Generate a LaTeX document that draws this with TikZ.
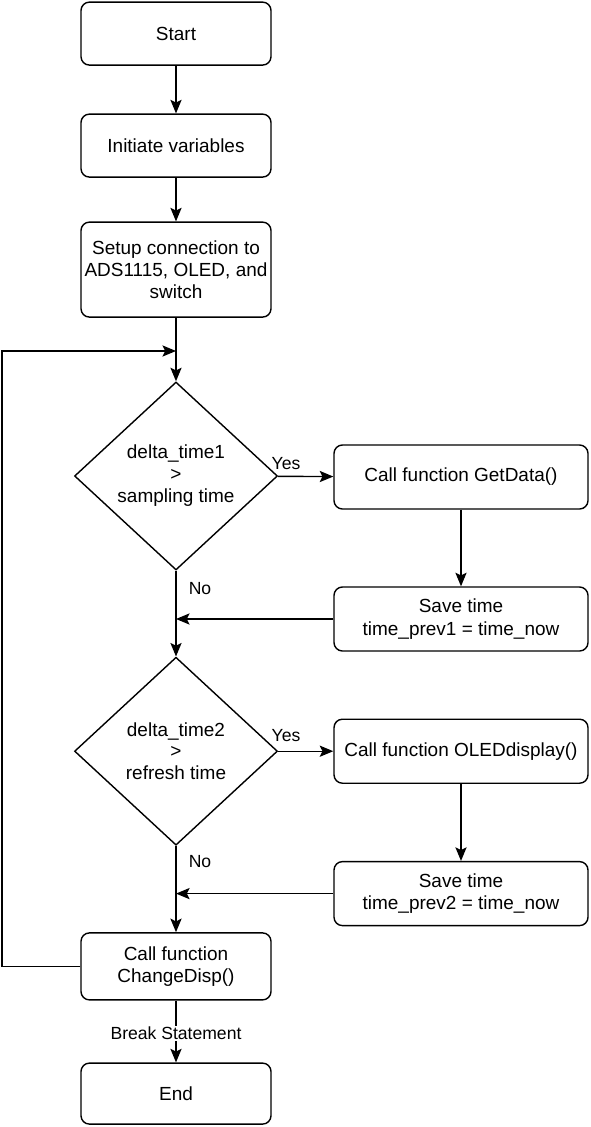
\documentclass[tikz,border=0pt]{standalone}
\usepackage{fontspec}
\setmainfont{Liberation Sans}
\usetikzlibrary{positioning, arrows.meta, shapes.geometric}

\begin{document}
\begin{tikzpicture}[
  box/.style={rectangle, rounded corners=6pt, draw=black, line width=1pt, align=center,
              minimum width=4.75cm, minimum height=1.575cm, inner sep=2pt,
              font=\fontsize{13.5}{15.8}\selectfont},
  wide/.style={box, minimum width=6.35cm, minimum height=1.6cm},
  decision/.style={diamond, draw=black, line width=1pt, align=center, inner sep=0pt,
                   minimum width=5.075cm, minimum height=4.7cm,
                   font=\fontsize{13.5}{15.6}\selectfont},
  lbl/.style={font=\fontsize{12.5}{14}\selectfont, inner sep=1pt},
  flow/.style={-{Stealth[length=3.4mm, width=2.8mm, inset=0.7mm]}, line width=1pt},
]
\useasboundingbox (0,0) rectangle (14.75,-28.175);
% main column
\node[box] (start) at (4.4,-0.84) {Start};
\node[box] (init) at (4.4,-3.64) {Initiate variables};
\node[box, minimum height=2.375cm] (setup) at (4.4,-6.74)
  {Setup connection to\\ADS1115, OLED, and\\switch};
\node[decision] (dt1) at (4.4,-11.9) {delta\_time1\\>\\sampling time};
\node[decision] (dt2) at (4.4,-18.78) {delta\_time2\\>\\refresh time};
\node[box, minimum height=1.675cm] (chg) at (4.4,-24.16) {Call function\\ChangeDisp()};
\node[box, minimum height=1.525cm] (end) at (4.4,-27.34) {End};
% right column
\node[wide] (get) at (11.525,-11.925) {Call function GetData()};
\node[wide] (save1) at (11.525,-15.475) {Save time\\time\_prev1 = time\_now};
\node[wide] (oled) at (11.525,-18.78) {Call function OLEDdisplay()};
\node[wide] (save2) at (11.525,-22.34) {Save time\\time\_prev2 = time\_now};
% join points on the main line
\coordinate (loopin) at (4.4,-8.775);
\coordinate (loopx) at (0.05,-8.775);
\coordinate (join1) at (4.4,-15.475);
\coordinate (join2) at (4.4,-22.34);
% labels
\node[lbl] (yes1) at (7.15,-11.58) {Yes};
\node[lbl] (no1) at (5.0,-14.72) {No};
\node[lbl] (yes2) at (7.15,-18.4) {Yes};
\node[lbl] (no2) at (5.0,-21.55) {No};
% arrows
\draw[flow] (start) -- (init);
\draw[flow] (init) -- (setup);
\draw[flow] (setup) -- (dt1);
\draw[flow] (chg.west) -| (loopx) -- (loopin);
\draw[flow] (dt1) -- (get);
\draw[flow] (get) -- (save1);
\draw[flow] (save1) -- (join1);
\draw[flow] (dt1) -- (dt2);
\draw[flow] (dt2) -- (oled);
\draw[flow] (oled) -- (save2);
\draw[flow] (save2) -- (join2);
\draw[flow] (dt2) -- (chg);
\draw[flow] (chg) -- node[lbl, fill=white, pos=0.53] (brk) {Break Statement} (end);
\end{tikzpicture}
\end{document}
